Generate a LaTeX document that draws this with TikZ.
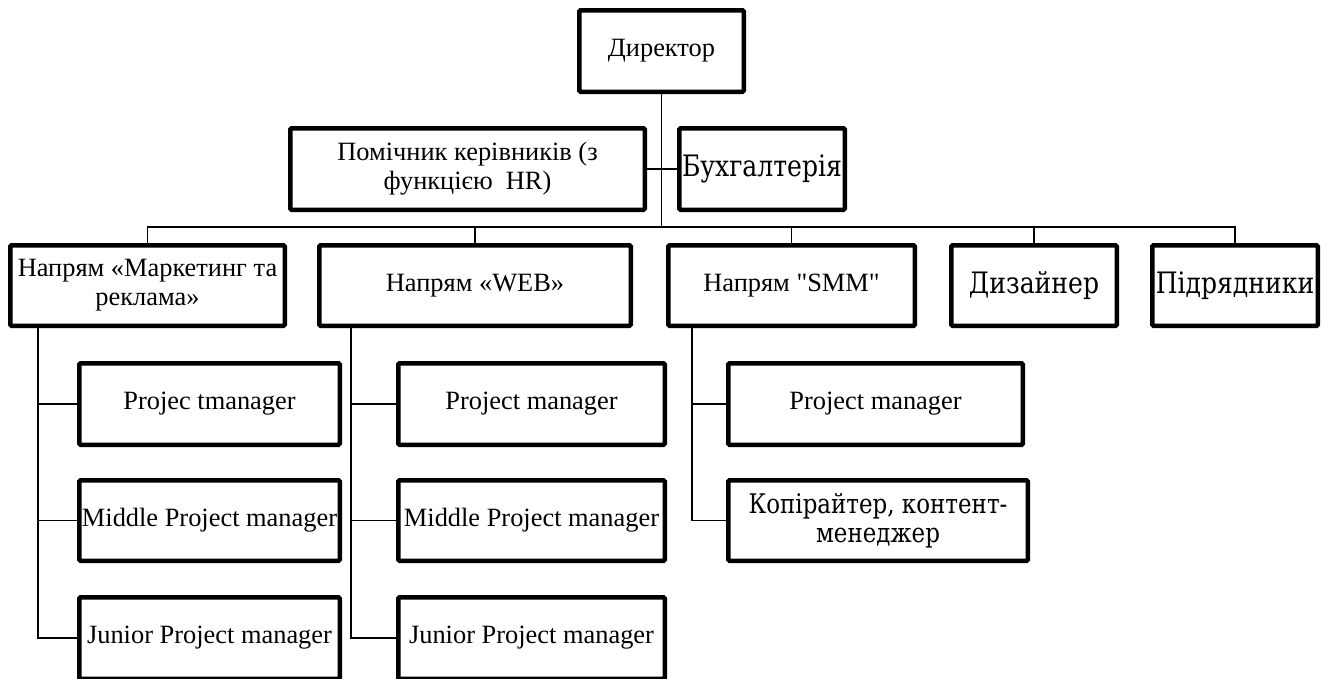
\documentclass[tikz,border=0pt]{standalone}
\usepackage{fontspec}
\setmainfont{Liberation Serif}[Ligatures=TeXOff]
\newfontfamily\cambfont[FakeStretch=0.85]{DejaVu Serif}
\begin{document}
\begin{tikzpicture}[x=1pt,y=-1pt,
  box/.style 2 args={draw=black, line width=4.5pt, rounded corners=1.2pt, inner sep=0pt,
    align=center, fill=white, font=\fontsize{26.4}{29}\selectfont,
    minimum width=#1pt-4.5pt, minimum height=#2pt-4.5pt},
  cbox/.style 2 args={box={#1}{#2}, font=\cambfont\fontsize{27}{29}\selectfont},
  cbig/.style 2 args={box={#1}{#2}, font=\cambfont\fontsize{29.5}{31}\selectfont},
  conn/.style={line width=1.5pt, line cap=rect}]
\clip (0,0) rectangle (1325,678);
\fill[white] (0,0) rectangle (1325,678);

% top levels
\node[box={169}{86}]  (dir)  at (661.5,51)  {Директор};
\node[box={359}{86}]  (asst) at (467.5,169) {Помічник керівників (з\\функцією\ \ HR)};
\node[cbig={170}{86}] (buh)  at (762,169)   {Бухгалтерія};

\node[box={279}{85}]  (mark) at (147.5,285.5) {Напрям «Маркетинг та\\реклама»};
\node[box={316}{85}]  (web)  at (475,285.5)   {Напрям «WEB»};
\node[box={251}{85}]  (smm)  at (791.5,285.5) {Напрям "SMM"};
\node[cbig={170}{85}] (diz)  at (1034,285.5)  {Дизайнер};
\node[cbig={170}{85}] (pid)  at (1235,285.5)  {Підрядники};

% marketing column
\node[box={265}{86}] (mp) at (209.5,404)   {Projec tmanager};
\node[box={265}{85}] (mm) at (209.5,520.5) {Middle Project manager};
\node[box={265}{86}] (mj) at (209.5,638)   {Junior Project manager};

% web column
\node[box={271}{86}] (wp) at (531.5,404)   {Project manager};
\node[box={271}{85}] (wm) at (531.5,520.5) {Middle Project manager};
\node[box={271}{86}] (wj) at (531.5,638)   {Junior Project manager};

% smm column
\node[box={299}{86}]  (sp) at (875.5,404)  {Project manager};
\node[cbox={304}{85}] (sc) at (878,520.5)  {Копірайтер, контент-\\менеджер};

% connectors
\coordinate (busy) at (0,227);
\coordinate (mL) at (38,0);
\coordinate (wL) at (351,0);
\coordinate (sL) at (692,0);

\draw[conn] (dir.south) -- (dir.south |- busy);
\draw[conn] (asst.east) -- (buh.west);
\draw[conn] (mark.north |- busy) -- (pid.north |- busy);
\foreach \n in {mark,web,smm,diz,pid}{
  \draw[conn] (\n.north |- busy) -- (\n.north);
}

\draw[conn] (mL |- mark.south) |- (mj.west);
\draw[conn] (mL |- mp.west) -- (mp.west);
\draw[conn] (mL |- mm.west) -- (mm.west);

\draw[conn] (wL |- web.south) |- (wj.west);
\draw[conn] (wL |- wp.west) -- (wp.west);
\draw[conn] (wL |- wm.west) -- (wm.west);

\draw[conn] (sL |- smm.south) |- (sc.west);
\draw[conn] (sL |- sp.west) -- (sp.west);
\end{tikzpicture}
\end{document}
